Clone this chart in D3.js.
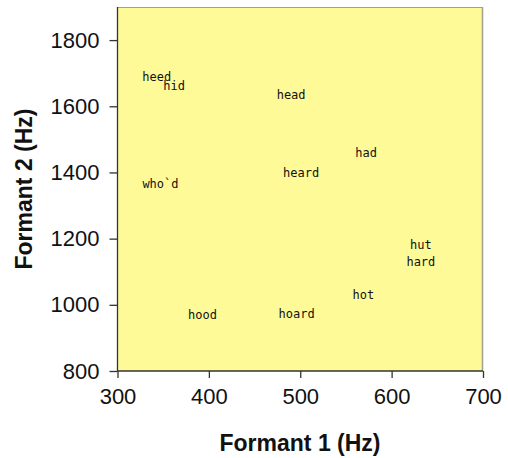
<!DOCTYPE html>
<html>
<head>
<meta charset="utf-8">
<script src="https://cdn.jsdelivr.net/npm/d3@7"></script>
<style>
  html, body { margin: 0; padding: 0; background: #ffffff; }
  svg { display: block; }
</style>
</head>
<body>
<svg id="chart" width="508" height="458"></svg>
<script>
const words = ["heed", "hid", "head", "had", "heard", "who`d", "hut", "hard", "hot", "hood", "hoard"];
const formant1 = [343, 362, 490, 572, 501, 347, 632, 632, 569, 393, 496];
const formant2 = [1687, 1660, 1633, 1460, 1399, 1364, 1182, 1129, 1030, 970, 972];
const xTicks = [300, 400, 500, 600, 700];
const yTicks = [800, 1000, 1200, 1400, 1600, 1800];
const xDomain = [300, 700];
const yDomain = [800, 1900];
const xTitle = "Formant 1 (Hz)";
const yTitle = "Formant 2 (Hz)";

const svg = d3.select("#chart");
const pLeft = 117.5, pRight = 483, pTop = 7, pBottom = 371;

const x = d3.scaleLinear().domain(xDomain).range([pLeft, pRight]);
const y = d3.scaleLinear().domain(yDomain).range([pBottom, pTop]);

// plot background
svg.append("rect")
  .attr("x", pLeft).attr("y", pTop)
  .attr("width", pRight - pLeft).attr("height", pBottom - pTop)
  .attr("fill", "#fffa98");

// top and right border (gray)
svg.append("line").attr("x1", pLeft).attr("x2", pRight).attr("y1", pTop + 0.5).attr("y2", pTop + 0.5)
  .attr("stroke", "#a0a090").attr("stroke-width", 1.2);
svg.append("line").attr("x1", pRight - 0.5).attr("x2", pRight - 0.5).attr("y1", pTop).attr("y2", pBottom)
  .attr("stroke", "#a0a090").attr("stroke-width", 1.5);

// axes
const xAxis = d3.axisBottom(x).tickValues(xTicks).tickSize(7).tickPadding(10).tickFormat(d3.format("d"));
const yAxis = d3.axisLeft(y).tickValues(yTicks).tickSize(8).tickPadding(10).tickFormat(d3.format("d"));

const gx = svg.append("g").attr("transform", `translate(0,${pBottom})`).call(xAxis);
const gy = svg.append("g").attr("transform", `translate(${pLeft},0)`).call(yAxis);

[gx, gy].forEach(g => {
  g.select(".domain").attr("stroke", "#333").attr("stroke-width", 1.3);
  g.selectAll(".tick line").attr("stroke", "#333").attr("stroke-width", 1.3);
  g.selectAll(".tick text")
    .attr("fill", "#111")
    .style("font-family", "'Liberation Sans', Arial, sans-serif")
    .style("font-size", "22px");
});
gx.select(".domain").attr("d", `M${pLeft},0H${pRight}`);
gy.select(".domain").attr("d", `M0,${pBottom}V${pTop}`);

// axis titles
svg.append("text")
  .attr("x", 300).attr("y", 451)
  .attr("text-anchor", "middle")
  .attr("fill", "#111")
  .style("font-family", "'Liberation Sans', Arial, sans-serif")
  .style("font-size", "23px").style("font-weight", "bold")
  .text(xTitle);

svg.append("text")
  .attr("transform", "translate(32,189) rotate(-90)")
  .attr("text-anchor", "middle")
  .attr("fill", "#111")
  .style("font-family", "'Liberation Sans', Arial, sans-serif")
  .style("font-size", "23px").style("font-weight", "bold")
  .text(yTitle);

// word labels
svg.append("g").selectAll("text")
  .data(words.map((w, i) => ({ w, f1: formant1[i], f2: formant2[i] })))
  .join("text")
  .attr("x", d => x(d.f1))
  .attr("y", d => y(d.f2))
  .attr("text-anchor", "middle")
  .attr("dominant-baseline", "central")
  .attr("fill", "#111")
  .style("font-family", "'DejaVu Sans Mono', monospace")
  .style("font-size", "12px")
  .text(d => d.w);
</script>
</body>
</html>
